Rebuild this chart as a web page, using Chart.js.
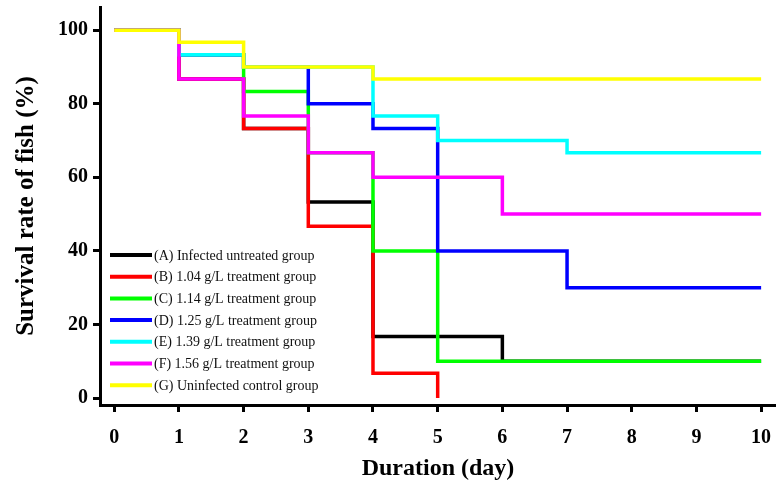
<!DOCTYPE html>
<html>
<head>
<meta charset="utf-8">
<script src="https://cdn.jsdelivr.net/npm/chart.js@4.4.0/dist/chart.umd.min.js"></script>
<style>
  html, body { margin: 0; padding: 0; background: #fff; }
  #wrap { width: 776px; height: 493px; }
</style>
</head>
<body>
<div id="wrap"><canvas id="survivalChart"></canvas></div>
<script>
// 그룹 이름
const groupLabels = [
  '(A) Infected untreated group',
  '(B) 1.04 g/L treatment group',
  '(C) 1.14 g/L treatment group',
  '(D) 1.25 g/L treatment group',
  '(E) 1.39 g/L treatment group',
  '(F) 1.56 g/L treatment group',
  '(G) Uninfected control group'
];
const groupColors = ['#000000', '#ff0000', '#00ff00', '#0000ff', '#00ffff', '#ff00ff', '#ffff00'];

// 생존 곡선: 변화 시점(day)과 그 이후 생존율(%)
const daysA = [0, 1, 2, 3, 4, 6, 10];
const survA = [100, 86.7, 73.3, 53.3, 16.7, 10, 10];
const daysB = [0, 1, 2, 3, 4, 5];
const survB = [100, 86.7, 73.3, 46.7, 6.7, 0];
const daysC = [0, 1, 2, 3, 4, 5, 10];
const survC = [100, 93.3, 83.3, 66.7, 40, 10, 10];
const daysD = [0, 1, 2, 3, 4, 5, 7, 10];
const survD = [100, 93.3, 90, 80, 73.3, 40, 30, 30];
const daysE = [0, 1, 2, 4, 5, 7, 10];
const survE = [100, 93.3, 90, 76.7, 70, 66.7, 66.7];
const daysF = [0, 1, 2, 3, 4, 6, 10];
const survF = [100, 86.7, 76.7, 66.7, 60, 50, 50];
const daysG = [0, 1, 2, 4, 10];
const survG = [100, 96.7, 90, 86.7, 86.7];

const allDays = [daysA, daysB, daysC, daysD, daysE, daysF, daysG];
const allSurv = [survA, survB, survC, survD, survE, survF, survG];

// 축 눈금
const xTicks = [0, 1, 2, 3, 4, 5, 6, 7, 8, 9, 10];
const yTicks = [0, 20, 40, 60, 80, 100];

const datasets = groupLabels.map((label, i) => ({
  label: label,
  data: allDays[i].map((d, j) => ({ x: d, y: allSurv[i][j] })),
  borderColor: groupColors[i],
  backgroundColor: groupColors[i],
  borderWidth: 3.5,
  pointRadius: 0,
  stepped: 'before',
  fill: false,
  order: groupLabels.length - 1 - i
}));

// 차트 안쪽 범례
const innerLegend = {
  id: 'innerLegend',
  afterDatasetsDraw(chart) {
    const ctx = chart.ctx;
    const area = chart.chartArea;
    ctx.save();
    ctx.font = '14px "Liberation Serif", "Times New Roman", serif';
    ctx.textBaseline = 'middle';
    ctx.textAlign = 'left';
    chart.data.datasets.forEach((ds, i) => {
      const y = area.top + 248 + i * 21.7;
      ctx.strokeStyle = ds.borderColor;
      ctx.lineWidth = 4;
      ctx.beginPath();
      ctx.moveTo(area.left + 10, y);
      ctx.lineTo(area.left + 52, y);
      ctx.stroke();
      ctx.fillStyle = '#111';
      ctx.fillText(ds.label, area.left + 54, y + 1);
    });
    ctx.restore();
  }
};

const serif = '"Liberation Serif", "Times New Roman", serif';

const ctx = document.getElementById('survivalChart').getContext('2d');
const survivalChart = new Chart(ctx, {
  type: 'line',
  data: { datasets: datasets },
  options: {
    responsive: true,
    maintainAspectRatio: false,
    animation: false,
    layout: { padding: { top: 7, right: 0, left: 0, bottom: 0 } },
    plugins: {
      legend: { display: false },
      tooltip: { enabled: false }
    },
    scales: {
      x: {
        type: 'linear',
        min: -0.22,
        max: 10.23,
        afterBuildTicks: (scale) => { scale.ticks = xTicks.map(v => ({ value: v })); },
        afterFit: (scale) => { scale.height = 88; scale.paddingLeft = 0; scale.paddingRight = 0; },
        grid: { drawOnChartArea: false, tickLength: 7, tickWidth: 3, tickColor: '#000' },
        border: { display: true, color: '#000', width: 3 },
        ticks: { color: '#000', padding: 14, font: { family: serif, size: 20, weight: 'bold' } },
        title: {
          display: true,
          text: 'Duration (day)',
          color: '#000',
          font: { family: serif, size: 24, weight: 'bold' },
          padding: { top: 0, bottom: 10 }
        }
      },
      y: {
        type: 'linear',
        min: -1.9,
        max: 106.3,
        afterBuildTicks: (scale) => { scale.ticks = yTicks.map(v => ({ value: v })); },
        afterFit: (scale) => { scale.width = 100; scale.paddingTop = 0; scale.paddingBottom = 0; },
        grid: { drawOnChartArea: false, tickLength: 7, tickWidth: 3, tickColor: '#000' },
        border: { display: true, color: '#000', width: 3 },
        ticks: { color: '#000', padding: 5, font: { family: serif, size: 20, weight: 'bold' } },
        title: {
          display: true,
          text: 'Survival rate of fish (%)',
          color: '#000',
          font: { family: serif, size: 25, weight: 'bold' },
          padding: { top: 12, bottom: 0 }
        }
      }
    }
  },
  plugins: [innerLegend]
});
</script>
</body>
</html>
